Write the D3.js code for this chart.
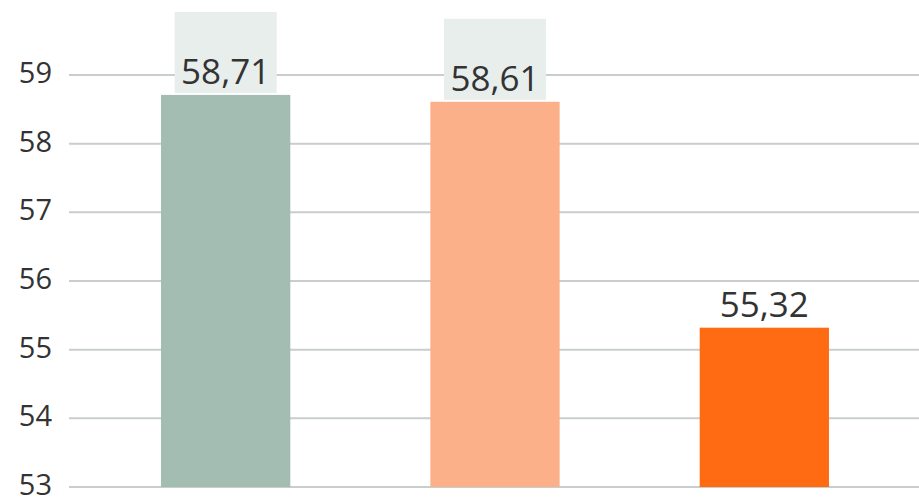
<!DOCTYPE html>
<html>
<head>
<meta charset="utf-8">
<script src="https://cdn.jsdelivr.net/npm/d3@7"></script>
<style>
  html, body { margin: 0; padding: 0; background: #fff; }
  svg { display: block; }
</style>
</head>
<body>
<svg id="chart" width="919" height="499"></svg>
<script>
const categories = ["A", "B", "C"];
const values = [58.71, 58.61, 55.32];
const valueLabels = ["58,71", "58,61", "55,32"];
const ghostBox = [true, true, false];
const barColors = ["#a3bdb2", "#fbb08a", "#fe6b13"];
const yTicks = [53, 54, 55, 56, 57, 58, 59];

const W = 919, H = 499;
const svg = d3.select("#chart");

const y = d3.scaleLinear().domain([53, 59]).range([487, 75]);
const x = d3.scaleBand().domain(categories).range([91, 899])
  .paddingInner(0.52).paddingOuter(0.26);

// gridlines
svg.append("g").selectAll("line").data(yTicks).join("line")
  .attr("x1", 69).attr("x2", W)
  .attr("y1", d => y(d)).attr("y2", d => y(d))
  .attr("stroke", "#c9cdcd").attr("stroke-width", 2);

// y tick labels
svg.append("g").selectAll("text").data(yTicks).join("text")
  .attr("x", 52).attr("y", d => y(d) + 8)
  .attr("text-anchor", "end")
  .attr("font-family", "Open Sans").attr("font-size", 29)
  .attr("fill", "#333").text(d => d);

const data = categories.map((c, i) => ({ c, v: values[i], label: valueLabels[i], ghost: ghostBox[i], color: barColors[i] }));

// faint label backgrounds
svg.append("g").selectAll("rect").data(data.filter(d => d.ghost)).join("rect")
  .attr("x", d => x(d.c) + x.bandwidth() / 2 - 51)
  .attr("width", 102)
  .attr("y", d => y(d.v) - 83)
  .attr("height", 81)
  .attr("fill", "#e7eeec");

// bars
svg.append("g").selectAll("rect").data(data).join("rect")
  .attr("x", d => x(d.c))
  .attr("width", x.bandwidth())
  .attr("y", d => y(d.v))
  .attr("height", d => y(53) - y(d.v))
  .attr("fill", d => d.color);

// value labels
svg.append("g").selectAll("text").data(data).join("text")
  .attr("x", d => x(d.c) + x.bandwidth() / 2)
  .attr("y", d => y(d.v) - 11)
  .attr("text-anchor", "middle")
  .attr("font-family", "Open Sans").attr("font-size", 35)
  .attr("fill", "#333").text(d => d.label);
</script>
</body>
</html>
